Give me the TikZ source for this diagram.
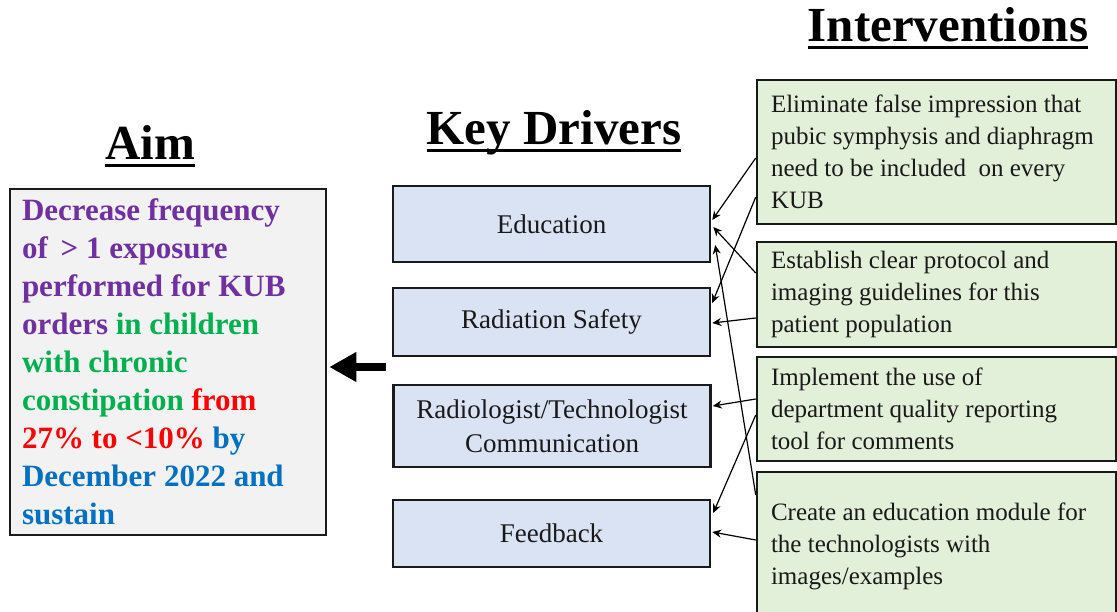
\documentclass[tikz,border=0pt]{standalone}
\usepackage{fontspec}
\setmainfont{Liberation Serif}
\usetikzlibrary{arrows.meta,calc}

\definecolor{aimpurple}{HTML}{7030A0}
\definecolor{aimgreen}{HTML}{00B050}
\definecolor{aimred}{HTML}{FF0000}
\definecolor{aimblue}{HTML}{0070C0}
\definecolor{aimfill}{HTML}{F2F2F2}
\definecolor{drvfill}{HTML}{DAE3F3}
\definecolor{intfill}{HTML}{E2F0D9}
\definecolor{edge}{HTML}{1A1A1A}

\begin{document}
\begin{tikzpicture}[x=1pt,y=-1pt,
  title/.style={font=\fontsize{49}{56}\selectfont\bfseries, inner sep=0pt, anchor=base, text=black},
  uline/.style={line width=3pt, draw=black},
  aimbox/.style={draw=edge, line width=2.5pt, fill=aimfill, text width=292pt, inner xsep=12pt,
    inner ysep=0pt, align=flush left, font=\fontsize{31}{38}\selectfont\bfseries},
  driver/.style={draw=edge, line width=2.5pt, fill=drvfill, minimum width=317pt, inner sep=0pt,
    align=center, font=\fontsize{27}{34}\selectfont, text=black!90},
  interv/.style={draw=edge, line width=2.5pt, fill=intfill, text width=331pt, inner xsep=14pt,
    inner ysep=0pt, align=flush left, font=\fontsize{25}{32}\selectfont, text=black!90},
  link/.style={-{Stealth[length=9pt,width=8pt]}, line width=1.2pt, draw=black},
  bigarrow/.style={-{Triangle[length=27pt,width=28pt]}, line width=8pt, draw=black}
]
\useasboundingbox (0,0) rectangle (1117,612);

% column headings
\node[title] (aimT) at (150,160) {Aim};
\node[title] (kdT) at (554,145) {Key Drivers};
\node[title] (intT) at (948,42) {Interventions};
\foreach \t in {aimT,kdT,intT}
  \draw[uline] ($(\t.base west)+(0,5.5)$) -- ($(\t.base east)+(0,5.5)$);

% aim statement
\node[aimbox, minimum height=346pt] (aim) at (168,362) {%
\color{aimpurple}Decrease frequency\\
of \,> 1 exposure\\
performed for KUB\\
orders \color{aimgreen}in children\\
with chronic\\
constipation \color{aimred}from\\
27\% to <10\% \color{aimblue}by\\
December 2022 and\\
sustain};

% key drivers
\node[driver, minimum height=76pt] (edu)  at (551.5,224)   {Education};
\node[driver, minimum height=68pt] (rad)  at (551.5,322)   {Radiation Safety};
\node[driver, minimum height=82pt] (comm) at (552,426)     {Radiologist/Technologist\\Communication};
\node[driver, minimum height=67pt] (fb)   at (551.5,533.5) {Feedback};

% interventions
\node[interv, minimum height=144pt] (elim) at (936.5,152) {Eliminate false impression that\\
pubic symphysis and diaphragm\\need to be included\ \ on every\\KUB};
\node[interv, minimum height=105pt] (est) at (936.5,294.5) {Establish clear protocol and\\
imaging guidelines for this\\patient population};
\node[interv, minimum height=104pt] (impl) at (936.5,409) {Implement the use of\\
department quality reporting\\tool for comments};
\node[interv, minimum height=148pt] (create) at (936.5,546) {Create an education module for\\
the technologists with\\images/examples};

% links from interventions to drivers
\draw[link] ($(elim.west)+(0,6)$)     -- ($(edu.east)+(1,-4)$);
\draw[link] ($(elim.west)+(0,45)$)    -- ($(rad.east)+(1,-19)$);
\draw[link] ($(est.west)+(0,-21.5)$)  -- ($(edu.east)+(2,3)$);
\draw[link] ($(est.west)+(0,23.5)$)   -- ($(rad.east)+(1,1)$);
\draw[link] ($(impl.west)+(0,-10)$)   -- ($(comm.east)+(1,-20)$);
\draw[link] ($(impl.west)+(0,6)$)     -- ($(fb.east)+(2,-20.5)$);
\draw[link] ($(create.west)+(0,-51)$) -- ($(edu.east)+(4,21)$);
\draw[link] ($(create.west)+(0,-6)$)  -- ($(fb.east)+(1,-1.5)$);

% drivers feed the aim
\coordinate (bigtail) at (386,367);
\draw[bigarrow] (bigtail) -- ($(aim.east)+(2,5)$);
\end{tikzpicture}
\end{document}
